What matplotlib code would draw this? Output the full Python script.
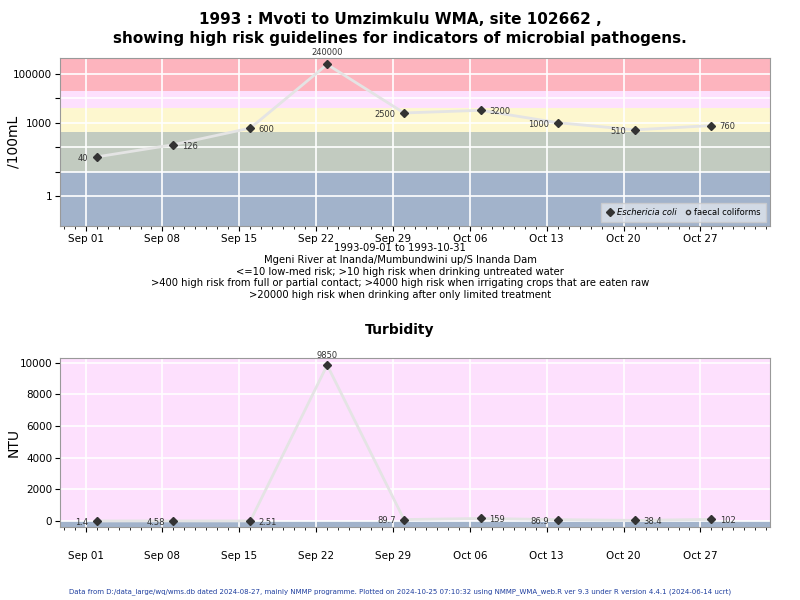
import matplotlib
matplotlib.use("Agg")
import matplotlib.pyplot as plt
import matplotlib.dates as mdates
import numpy as np
import datetime as dt

dates = ["1993-09-02","1993-09-09","1993-09-16","1993-09-23","1993-09-30",
         "1993-10-07","1993-10-14","1993-10-21","1993-10-28"]
ecoli = [40, 126, 600, 240000, 2500, 3200, 1000, 510, 760]
ecoli_labels = ["40","126","600","240000","2500","3200","1000","510","760"]
turb = [1.4, 4.58, 2.51, 9850, 89.7, 159, 86.9, 38.4, 102]
turb_labels = ["1.4","4.58","2.51","9850","89.7","159","86.9","38.4","102"]
# label side: -1 left, 1 right, 0 above
ecoli_side = [-1, 1, 1, 0, -1, 1, -1, -1, 1]
turb_side = [-1, -1, 1, 0, -1, 1, -1, 1, 1]

x = [dt.datetime.strptime(d, "%Y-%m-%d") for d in dates]
xlim = (dt.datetime(1993, 8, 29, 16), dt.datetime(1993, 11, 2, 8))

fig = plt.figure(figsize=(8, 6), dpi=100)
ax1 = fig.add_axes([60/800, 1-226/600, 710/800, 168/600])
ax2 = fig.add_axes([60/800, 1-527/600, 710/800, 169/600])

def style(ax):
    for s in ax.spines.values():
        s.set_color("#999999")
    ax.set_xlim(*xlim)
    ax.xaxis.set_major_locator(mdates.WeekdayLocator(byweekday=mdates.WE))
    ax.xaxis.set_major_formatter(mdates.DateFormatter("%b %d"))
    ax.xaxis.set_minor_locator(mdates.DayLocator())
    ax.grid(True, which="major", color="white", lw=1.2)
    ax.set_axisbelow(True)
    ax.tick_params(labelsize=7.5, pad=2)

style(ax1)
ax1.set_yscale("log")
ax1.set_ylim(0.06, 4.4e5)
bands = [(0.01, 10, "#a2b3cb"), (10, 400, "#c2cbc0"), (400, 4000, "#fdf7cf"),
         (4000, 20000, "#fde0fd"), (20000, 1e7, "#fdb4be")]
for lo, hi, c in bands:
    ax1.axhspan(lo, hi, color=c, zorder=0, lw=0)
ax1.set_yticks([1, 10, 100, 1000, 10000, 100000])
ax1.set_yticklabels(["1", "", "", "1000", "", "100000"])
ax1.yaxis.set_minor_locator(matplotlib.ticker.NullLocator())
ax1.set_ylabel("/100mL", fontsize=10)
ax1.yaxis.set_label_coords(-0.055, 0.5)
ax1.plot(x, ecoli, color="#e4e4e4", lw=2, zorder=2)
ax1.plot(x, ecoli, "D", color="#333333", ms=4, zorder=3, label="Eschericia coli")
ax1.plot([], [], "o", mfc="none", mec="#333333", ms=3, label="faecal coliforms")
for xi, v, l, s in zip(x, ecoli, ecoli_labels, ecoli_side):
    if s == 0:
        ax1.annotate(l, (xi, v), xytext=(0, 5), textcoords="offset points", ha="center", va="bottom", fontsize=6, color="#333333")
    else:
        ax1.annotate(l, (xi, v), xytext=(6*s, -1), textcoords="offset points",
                     ha="left" if s > 0 else "right", va="center", fontsize=6, color="#333333")
leg = ax1.legend(loc="lower right", ncol=2, fontsize=6, frameon=True, fancybox=False,
                 handletextpad=0.3, columnspacing=0.8, borderpad=0.6, handlelength=1)
leg.get_frame().set_facecolor("#dfe4ec")
leg.get_frame().set_edgecolor("#cccccc")
leg.get_texts()[0].set_style("italic")

style(ax2)
ax2.set_ylim(-380, 10300)
ax2.axhspan(-1000, 0, color="#a2b3cb", zorder=0, lw=0)
ax2.axhspan(0, 20000, color="#fde0fd", zorder=0, lw=0)
ax2.set_yticks([0, 2000, 4000, 6000, 8000, 10000])
ax2.set_ylabel("NTU", fontsize=10)
ax2.yaxis.set_label_coords(-0.055, 0.5)
ax2.tick_params(axis="x", pad=14)
ax2.plot(x, turb, color="#e4e4e4", lw=2, zorder=2)
ax2.plot(x, turb, "D", color="#333333", ms=4, zorder=3)
for xi, v, l, s in zip(x, turb, turb_labels, turb_side):
    if s == 0:
        ax2.annotate(l, (xi, v), xytext=(0, 4), textcoords="offset points", ha="center", va="bottom", fontsize=6, color="#333333")
    else:
        ax2.annotate(l, (xi, v), xytext=(6*s, -1), textcoords="offset points",
                     ha="left" if s > 0 else "right", va="center", fontsize=6, color="#333333")

fig.text(0.5, 1-20/600, "1993 : Mvoti to Umzimkulu WMA, site 102662 ,", ha="center", va="center", fontsize=11, fontweight="bold")
fig.text(0.5, 1-39/600, "showing high risk guidelines for indicators of microbial pathogens.", ha="center", va="center", fontsize=11, fontweight="bold")
sub = ["1993-09-01 to 1993-10-31",
       "Mgeni River at Inanda/Mumbundwini up/S Inanda Dam",
       "<=10 low-med risk; >10 high risk when drinking untreated water",
       ">400 high risk from full or partial contact; >4000 high risk when irrigating crops that are eaten raw",
       ">20000 high risk when drinking after only limited treatment"]
for i, s in enumerate(sub):
    fig.text(0.5, 1-(248+11.8*i)/600, s, ha="center", va="center", fontsize=7.2)
fig.text(0.5, 1-330/600, "Turbidity", ha="center", va="center", fontsize=10, fontweight="bold")
fig.text(0.5, 1-592/600, "Data from D:/data_large/wq/wms.db dated 2024-08-27, mainly NMMP programme. Plotted on 2024-10-25 07:10:32 using NMMP_WMA_web.R ver 9.3 under R version 4.4.1 (2024-06-14 ucrt)",
         ha="center", va="center", fontsize=5, color="#1f3f9f")
fig.savefig("out.png", dpi=100)
